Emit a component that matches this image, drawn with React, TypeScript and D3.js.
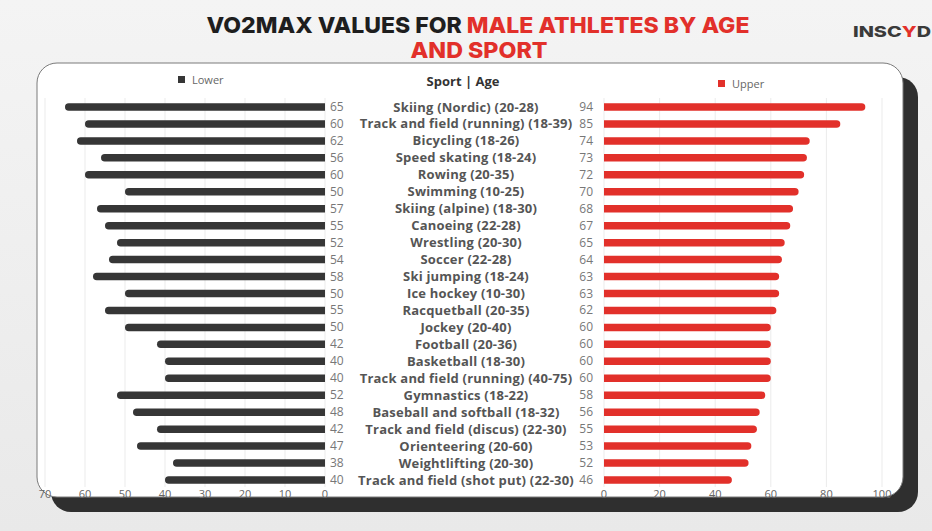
import React from "react";
import * as d3 from "d3";

const sports: string[] = [
  "Skiing (Nordic) (20-28)",
  "Track and field (running) (18-39)",
  "Bicycling (18-26)",
  "Speed skating (18-24)",
  "Rowing (20-35)",
  "Swimming (10-25)",
  "Skiing (alpine) (18-30)",
  "Canoeing (22-28)",
  "Wrestling (20-30)",
  "Soccer (22-28)",
  "Ski jumping (18-24)",
  "Ice hockey (10-30)",
  "Racquetball (20-35)",
  "Jockey (20-40)",
  "Football (20-36)",
  "Basketball (18-30)",
  "Track and field (running) (40-75)",
  "Gymnastics (18-22)",
  "Baseball and softball (18-32)",
  "Track and field (discus) (22-30)",
  "Orienteering (20-60)",
  "Weightlifting (20-30)",
  "Track and field (shot put) (22-30)",
];
const lower: number[] = [65, 60, 62, 56, 60, 50, 57, 55, 52, 54, 58, 50, 55, 50, 42, 40, 40, 52, 48, 42, 47, 38, 40];
const upper: number[] = [94, 85, 74, 73, 72, 70, 68, 67, 65, 64, 63, 63, 62, 60, 60, 60, 60, 58, 56, 55, 53, 52, 46];
const lowerTicks: number[] = [0, 10, 20, 30, 40, 50, 60, 70];
const upperTicks: number[] = [0, 20, 40, 60, 80, 100];

const W = 932;
const H = 531;
const RED = "#e2302a";
const DARK = "#363636";

export default function App() {
  const xL = d3.scaleLinear().domain([0, 70]).range([325, 45]);
  const xR = d3.scaleLinear().domain([0, 100]).range([604, 882]);
  const y = d3.scalePoint<string>().domain(sports).range([107, 480]);
  const bh = 7.5;
  const r = bh / 2;

  return (
    <svg width={W} height={H} style={{ position: "absolute", left: 0, top: 0 }} fontFamily="'Open Sans', sans-serif">
      <defs>
        <linearGradient id="bg" x1="0" y1="0" x2="0" y2="1">
          <stop offset="0" stopColor="#f4f4f4" />
          <stop offset="1" stopColor="#e9e9e9" />
        </linearGradient>
      </defs>
      <rect x={0} y={0} width={W} height={H} fill="url(#bg)" />
      {/* title */}
      <text x={478} y={33} textAnchor="middle" fontFamily="Inter, sans-serif" fontWeight={800} fontSize={22} textLength={543} lengthAdjust="spacingAndGlyphs">
        <tspan fill="#1e1e1e">VO2MAX VALUES FOR </tspan>
        <tspan fill={RED}>MALE ATHLETES BY AGE</tspan>
      </text>
      <text x={479} y={58} textAnchor="middle" fontFamily="Inter, sans-serif" fontWeight={800} fontSize={22} fill={RED} textLength={137} lengthAdjust="spacingAndGlyphs">
        AND SPORT
      </text>
      <text x={853} y={37} fontFamily="Inter, sans-serif" fontWeight={800} fontSize={15} fill="#3a3a3a" textLength={78} lengthAdjust="spacingAndGlyphs">
        INSC<tspan fill={RED}>Y</tspan>D
      </text>

      {/* card */}
      <rect x={51} y={77} width={867} height={435} rx={20} fill="#2f2f2f" />
      <rect x={37} y={63} width={866} height={434} rx={20} fill="#ffffff" stroke="#7a7a7a" strokeWidth={1} />

      {/* legends */}
      <rect x={178} y={76} width={7} height={7} fill={DARK} />
      <text x={192} y={83.5} fontSize={11} fill="#666">Lower</text>
      <text x={463} y={86} textAnchor="middle" fontSize={13} fontWeight={700} fill="#333">Sport | Age</text>
      <rect x={718} y={80} width={7} height={7} fill={RED} />
      <text x={732} y={88} fontSize={11} fill="#666">Upper</text>

      {/* gridlines */}
      {lowerTicks.map((t) => (
        <line key={"gl" + t} x1={xL(t)} x2={xL(t)} y1={98} y2={487} stroke="#ebebeb" strokeWidth={1} />
      ))}
      {upperTicks.map((t) => (
        <line key={"gr" + t} x1={xR(t)} x2={xR(t)} y1={98} y2={487} stroke="#ebebeb" strokeWidth={1} />
      ))}

      {/* bars */}
      {sports.map((s, i) => {
        const yc = y(s) as number;
        const l0 = xL(lower[i]);
        const l1 = xL(0);
        const r0 = xR(0);
        const r1 = xR(upper[i]);
        return (
          <g key={s}>
            <path
              d={`M${l1},${yc - r} L${l0 + r},${yc - r} A${r},${r} 0 0 0 ${l0 + r},${yc + r} L${l1},${yc + r} Z`}
              fill={DARK}
            />
            <path
              d={`M${r0},${yc - r} L${r1 - r},${yc - r} A${r},${r} 0 0 1 ${r1 - r},${yc + r} L${r0},${yc + r} Z`}
              fill={RED}
            />
            <text x={l1 + 5} y={yc + 4} fontSize={12} fill="#777">{lower[i]}</text>
            <text x={r0 - 11} y={yc + 4} fontSize={12} fill="#777" textAnchor="end">{upper[i]}</text>
            <text x={466} y={yc + 4.5} fontSize={13} fontWeight={700} fill="#555" textAnchor="middle" letterSpacing={0.2}>{s}</text>
          </g>
        );
      })}

      {/* axes tick labels */}
      {lowerTicks.map((t) => (
        <text key={"tl" + t} x={xL(t)} y={498} fontSize={11} fill="#666" textAnchor="middle">{t}</text>
      ))}
      {upperTicks.map((t) => (
        <text key={"tr" + t} x={xR(t)} y={498} fontSize={11} fill="#666" textAnchor="middle">{t}</text>
      ))}
    </svg>
  );
}
